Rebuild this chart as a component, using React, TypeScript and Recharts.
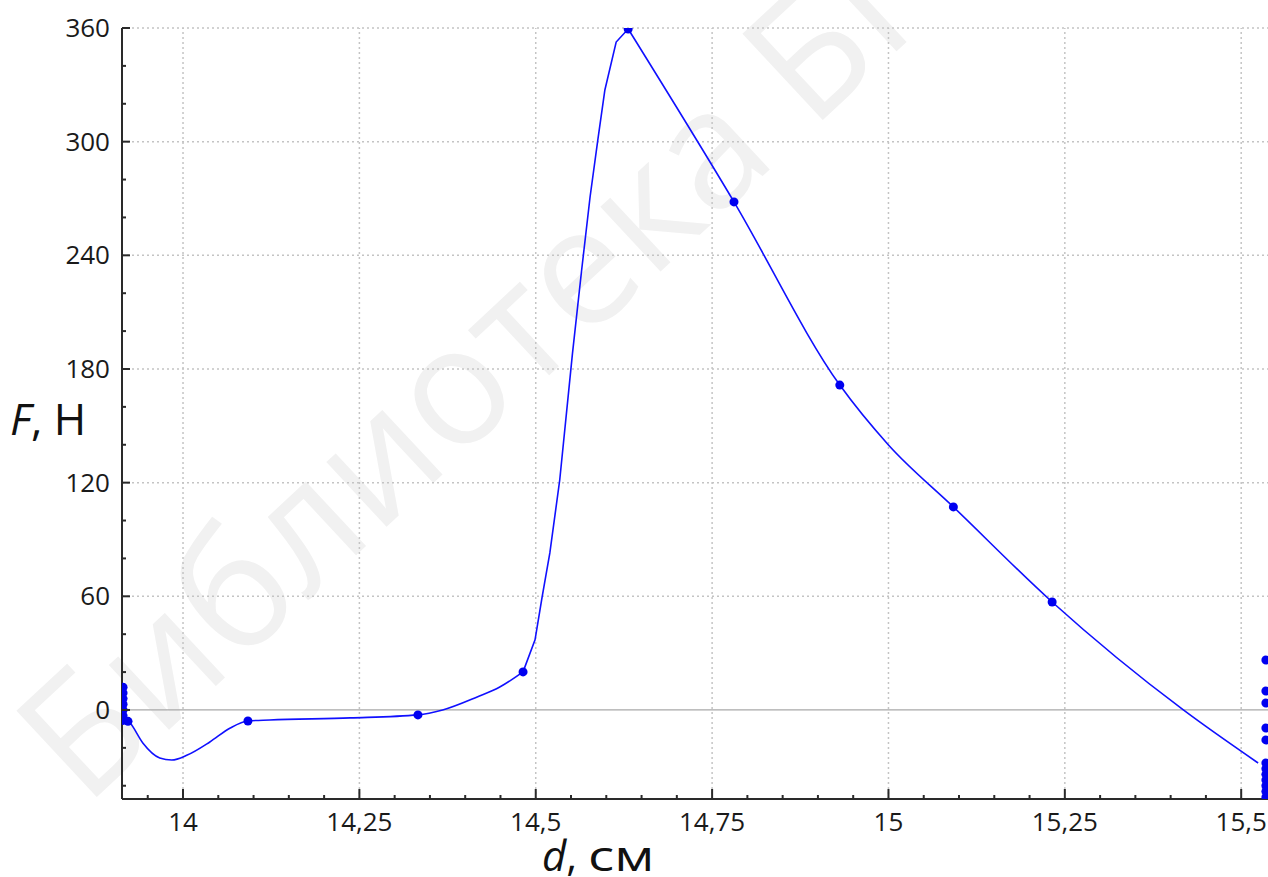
import React from "react";
import { ComposedChart, Line, Scatter, XAxis, YAxis, ReferenceLine } from "recharts";

// Traced curve, smooth dip part (d in cm, F in N)
const dipD = [13.922, 13.925, 13.943, 13.967, 13.984, 14.006, 14.038, 14.067, 14.092, 14.123, 14.237, 14.333, 14.368, 14.417, 14.449, 14.482];
const dipF = [-5.8, -6.9, -17.4, -25.3, -26.4, -23.8, -16.9, -9.5, -5.8, -5.3, -4.2, -2.6, 0, 6.9, 12.1, 20.1];
// Traced curve, steep rise
const riseD = [14.482, 14.499, 14.509, 14.52, 14.534, 14.552, 14.565, 14.577, 14.588, 14.598, 14.614, 14.631];
const riseF = [20.1, 37, 59.6, 82.9, 121.4, 188, 232, 270.8, 300.9, 327.3, 352.6, 359.5];
// Traced curve, descent
const fallD = [14.631, 14.781, 14.931, 15.0, 15.092, 15.232, 15.418, 15.524];
const fallF = [359.5, 268.2, 171.5, 139.9, 107.2, 57, 0, -28];

// Measured points (markers)
const pointD = [13.915, 13.915, 13.915, 13.915, 13.915, 13.915, 13.915, 13.922, 14.092, 14.333, 14.482, 14.631, 14.781, 14.931, 15.092, 15.232, 15.535, 15.535, 15.535, 15.535, 15.535, 15.535, 15.535, 15.535, 15.535, 15.535, 15.535, 15.535];
const pointF = [12, 9, 6, 3, 0, -3, -5.5, -6, -5.8, -2.6, 20.1, 359.5, 268.2, 171.5, 107.2, 57, 26.4, 10, 3.7, -9.5, -15.8, -28, -31, -34, -37, -40, -43, -46];

const xTicks = [13.95, 14, 14.05, 14.1, 14.15, 14.2, 14.25, 14.3, 14.35, 14.4, 14.45, 14.5, 14.55, 14.6, 14.65, 14.7, 14.75, 14.8, 14.85, 14.9, 14.95, 15, 15.05, 15.1, 15.15, 15.2, 15.25, 15.3, 15.35, 15.4, 15.45, 15.5];
const xMajor = [14, 14.25, 14.5, 14.75, 15, 15.25, 15.5];
const xMajorLabels = ["14", "14,25", "14,5", "14,75", "15", "15,25", "15,5"];
const yTicks = [-40, -20, 0, 20, 40, 60, 80, 100, 120, 140, 160, 180, 200, 220, 240, 260, 280, 300, 320, 340, 360];
const yMajor = [0, 60, 120, 180, 240, 300, 360];
const yGrid = [60, 120, 180, 240, 300, 360];

const dip = dipD.map((d, i) => ({ d, f: dipF[i] }));
const rise = riseD.map((d, i) => ({ d, f: riseF[i] }));
const fall = fallD.map((d, i) => ({ d, f: fallF[i] }));
const points = pointD.map((d, i) => ({ d, f: pointF[i] }));

const FONT = "'Open Sans', 'Noto Sans', sans-serif";
const AXIS = "#2a2a2a";
const BLUE = "#1010ff";

const isMajor = (arr: number[], v: number) => arr.some((m) => Math.abs(m - v) < 1e-6);

const XTick = (props: any) => {
  const { x, y, payload } = props;
  const v = payload.value;
  const major = isMajor(xMajor, v);
  const idx = xMajor.findIndex((m) => Math.abs(m - v) < 1e-6);
  return (
    <g>
      <line x1={x} x2={x} y1={y} y2={y - (major ? 10 : 4)} stroke={AXIS} strokeWidth={2} />
      {major && (
        <text x={x} y={y + 32} textAnchor="middle" fontSize={26} fontFamily={FONT} fill="#1a1a1a">
          {xMajorLabels[idx]}
        </text>
      )}
    </g>
  );
};

const YTick = (props: any) => {
  const { x, y, payload } = props;
  const v = payload.value;
  const major = isMajor(yMajor, v);
  return (
    <g>
      <line x1={x} x2={x + (major ? 8 : 4)} y1={y} y2={y} stroke={AXIS} strokeWidth={2} />
      {major && (
        <text x={x - 12} y={y + 9} textAnchor="end" fontSize={26} fontFamily={FONT} fill="#1a1a1a">
          {String(v)}
        </text>
      )}
    </g>
  );
};

const Dot = (props: any) => {
  const { cx, cy } = props;
  if (cx == null || cy == null) return null;
  return <circle cx={cx} cy={cy} r={4.5} fill="#0000f0" />;
};

export default function App() {
  return (
    <div style={{ position: "absolute", left: 0, top: 0, width: 1268, height: 877, background: "#fff", overflow: "hidden" }}>
      <svg width={1268} height={877} style={{ position: "absolute", left: 0, top: 0 }}>
        <text
          x={85}
          y={808}
          transform="rotate(-43 85 808)"
          fontSize={165}
          fontFamily={FONT}
          fill="#f1f1f1"
        >
          Библиотека БГУИР
        </text>
      </svg>
      <div style={{ position: "absolute", left: 0, top: 0 }}>
        <ComposedChart width={1268} height={877} margin={{ top: 28, right: 0, bottom: 0, left: 0 }}>
          <XAxis
            type="number"
            dataKey="d"
            domain={[13.9135, 15.538]}
            allowDataOverflow
            ticks={xTicks}
            interval={0}
            tickSize={0}
            tickMargin={0}
            tickLine={false}
            tick={<XTick />}
            height={78}
            axisLine={{ stroke: AXIS, strokeWidth: 2 }}
          />
          <YAxis
            type="number"
            dataKey="f"
            domain={[-47, 360]}
            allowDataOverflow
            ticks={yTicks}
            interval={0}
            tickSize={0}
            tickMargin={0}
            tickLine={false}
            tick={<YTick />}
            width={122}
            axisLine={{ stroke: AXIS, strokeWidth: 2 }}
          />
          {xMajor.map((v) => (
            <ReferenceLine key={"gx" + v} x={v} stroke="#c4c4c4" strokeWidth={1.5} strokeDasharray="2 3" />
          ))}
          {yGrid.map((v) => (
            <ReferenceLine key={"gy" + v} y={v} stroke="#c4c4c4" strokeWidth={1.5} strokeDasharray="2 3" />
          ))}
          <ReferenceLine y={0} stroke="#a8a8a8" strokeWidth={1.2} />
          <Line data={dip} dataKey="f" type="monotone" stroke={BLUE} strokeWidth={1.6} dot={false} activeDot={false} isAnimationActive={false} />
          <Line data={rise} dataKey="f" type="linear" stroke={BLUE} strokeWidth={1.6} dot={false} activeDot={false} isAnimationActive={false} />
          <Line data={fall} dataKey="f" type="monotone" stroke={BLUE} strokeWidth={1.6} dot={false} activeDot={false} isAnimationActive={false} />
          <Scatter data={points} dataKey="f" shape={<Dot />} isAnimationActive={false} />
        </ComposedChart>
      </div>
      <div
        style={{
          position: "absolute",
          left: 10,
          top: 396,
          fontFamily: FONT,
          fontSize: 44,
          color: "#111",
          lineHeight: 1,
          whiteSpace: "nowrap",
        }}
      >
        <i>F</i>, Н
      </div>
      <div
        style={{
          position: "absolute",
          left: 542,
          top: 834,
          fontFamily: FONT,
          fontSize: 42,
          color: "#111",
          lineHeight: 1,
          whiteSpace: "nowrap",
        }}
      >
        <i>d</i>,{" "}
        <span style={{ display: "inline-block", transform: "scaleX(1.3)", transformOrigin: "left center" }}>см</span>
      </div>
    </div>
  );
}
